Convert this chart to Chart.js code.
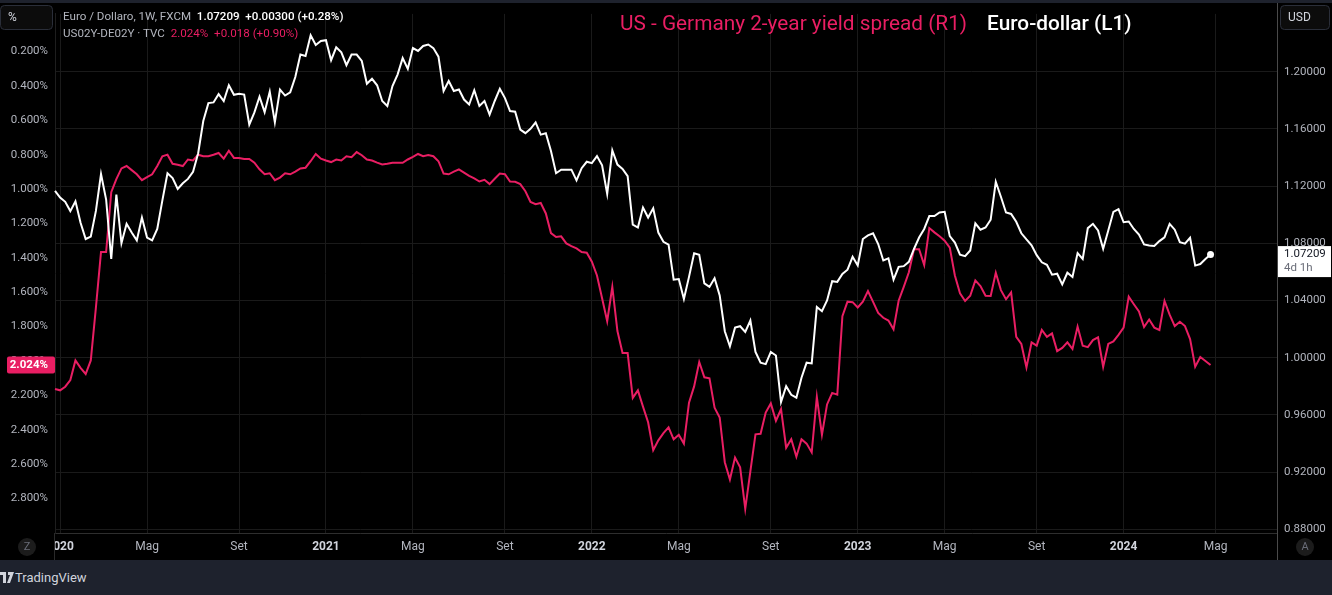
<!DOCTYPE html>
<html>
<head>
<meta charset="utf-8">
<script src="https://cdn.jsdelivr.net/npm/chart.js@4.4.1/dist/chart.umd.min.js"></script>
<style>
  html, body { margin: 0; padding: 0; background: #000; }
  body { width: 1332px; height: 595px; position: relative; overflow: hidden; font-family: Roboto, "Noto Sans", sans-serif; }
  #wrap { position: absolute; left: 0; top: 0; width: 1332px; height: 560px; }
  #footer { position: absolute; left: 0; top: 560px; width: 1332px; height: 35px; background: #1e222d; }
  #footer span { position: absolute; left: 15px; top: 0; line-height: 35px; font-size: 13px; color: #d1d4dc; }
  .lg { position: absolute; left: 63px; font-size: 11.6px; line-height: 14px; color: #b2b5be; white-space: pre; }
  .lg b { color: #fff; font-weight: 500; }
  .pk { color: #e91e63; }
  #title { position: absolute; left: 620px; top: 10px; font-size: 20.8px; line-height: 26px; white-space: pre; }
  #title .w { color: #fff; font-weight: 500; margin-left: 20px; }
</style>
</head>
<body>
<div id="wrap"><canvas id="chart" width="1332" height="560"></canvas></div>
<div class="lg" style="top:9px">Euro / Dollaro, 1W, FXCM  <b>1.07209</b>  <b>+0.00300 (+0.28%)</b></div>
<div class="lg" style="top:26px">US02Y-DE02Y · TVC  <span class="pk">2.024%</span>  <span class="pk">+0.018 (+0.90%)</span></div>
<div id="title"><span class="pk">US - Germany 2-year yield spread (R1)</span><span class="w">Euro-dollar (L1)</span></div>
<div id="footer">
  <svg width="14" height="12" style="position:absolute;left:0;top:12px">
    <path d="M0 0h6v11h-3v-8h-3z" fill="#d1d4dc"/><path d="M8 0h6l-4 11h-3l3-8h-2z" fill="#d1d4dc"/>
  </svg>
  <span>TradingView</span>
</div>
<script>
// weekly closes, week of 30 Dec 2019 .. week of 29 Apr 2024
const eurusd = [
  1.1167, 1.1120, 1.1090, 1.1025, 1.1093, 1.0944, 1.0830, 1.0847, 1.1026, 1.1284,
  1.1106, 1.0690, 1.1140, 1.0800, 1.0936, 1.0875, 1.0820, 1.0980, 1.0840, 1.0820,
  1.0900, 1.1100, 1.1290, 1.1256, 1.1180, 1.1220, 1.1250, 1.1300, 1.1430, 1.1655,
  1.1780, 1.1785, 1.1843, 1.1795, 1.1905, 1.1838, 1.1845, 1.1840, 1.1630, 1.1715,
  1.1825, 1.1717, 1.1860, 1.1646, 1.1875, 1.1833, 1.1855, 1.1963, 1.2120, 1.2110,
  1.2255, 1.2187, 1.2214, 1.2220, 1.2080, 1.2170, 1.2135, 1.2045, 1.2120, 1.2120,
  1.2075, 1.1915, 1.1950, 1.1905, 1.1795, 1.1760, 1.1900, 1.1980, 1.2095, 1.2020,
  1.2165, 1.2145, 1.2180, 1.2190, 1.2165, 1.2105, 1.1865, 1.1935, 1.1865, 1.1875,
  1.1805, 1.1770, 1.1870, 1.1760, 1.1795, 1.1700, 1.1795, 1.1880, 1.1815, 1.1725,
  1.1720, 1.1595, 1.1570, 1.1600, 1.1645, 1.1560, 1.1570, 1.1445, 1.1290, 1.1315,
  1.1315, 1.1315, 1.1240, 1.1325, 1.1370, 1.1360, 1.1410, 1.1345, 1.1145, 1.1450,
  1.1350, 1.1320, 1.1270, 1.0930, 1.0910, 1.1050, 1.0980, 1.1045, 1.0875, 1.0810,
  1.0790, 1.0545, 1.0550, 1.0410, 1.0565, 1.0730, 1.0720, 1.0520, 1.0495, 1.0555,
  1.0435, 1.0185, 1.0080, 1.0210, 1.0220, 1.0180, 1.0260, 1.0040, 0.9965, 0.9955,
  1.0040, 1.0015, 0.9690, 0.9800, 0.9740, 0.9720, 0.9860, 0.9965, 0.9960, 1.0355,
  1.0325, 1.0400, 1.0535, 1.0530, 1.0585, 1.0615, 1.0705, 1.0645, 1.0830, 1.0855,
  1.0870, 1.0795, 1.0680, 1.0695, 1.0545, 1.0635, 1.0640, 1.0670, 1.0760, 1.0840,
  1.0900, 1.0990, 1.0990, 1.1015, 1.1020, 1.0850, 1.0805, 1.0720, 1.0710, 1.0750,
  1.0940, 1.0895, 1.0910, 1.0965, 1.1230, 1.1125, 1.1015, 1.1005, 1.0950, 1.0870,
  1.0827, 1.0786, 1.0717, 1.0667, 1.0649, 1.0580, 1.0587, 1.0512, 1.0594, 1.0564,
  1.0731, 1.0690, 1.0906, 1.0936, 1.0890, 1.0762, 1.0890, 1.1020, 1.1039, 1.0947,
  1.0952, 1.0900, 1.0861, 1.0792, 1.0785, 1.0781, 1.0815, 1.0842, 1.0936, 1.0895,
  1.0808, 1.0797, 1.0838, 1.0644, 1.0655, 1.0690, 1.07209
];
const spread = [
  2.163, 2.171, 2.150, 2.111, 1.997, 2.040, 2.076, 1.997, 1.690, 1.366,
  1.366, 1.018, 0.942, 0.880, 0.866, 0.890, 0.914, 0.948, 0.930, 0.914,
  0.866, 0.810, 0.800, 0.853, 0.859, 0.866, 0.828, 0.834, 0.800, 0.809,
  0.809, 0.800, 0.790, 0.823, 0.777, 0.819, 0.819, 0.825, 0.825, 0.847,
  0.885, 0.914, 0.908, 0.948, 0.933, 0.908, 0.914, 0.899, 0.880, 0.876,
  0.838, 0.796, 0.823, 0.834, 0.843, 0.828, 0.834, 0.809, 0.815, 0.785,
  0.803, 0.828, 0.834, 0.846, 0.857, 0.853, 0.847, 0.847, 0.847, 0.828,
  0.813, 0.796, 0.809, 0.802, 0.809, 0.838, 0.910, 0.914, 0.899, 0.885,
  0.904, 0.923, 0.938, 0.956, 0.946, 0.971, 0.940, 0.910, 0.914, 0.956,
  0.958, 0.971, 1.013, 1.075, 1.088, 1.081, 1.142, 1.256, 1.279, 1.275,
  1.316, 1.332, 1.345, 1.366, 1.370, 1.423, 1.503, 1.635, 1.769, 1.569,
  1.826, 1.954, 1.954, 2.215, 2.171, 2.266, 2.357, 2.519, 2.462, 2.420,
  2.386, 2.456, 2.430, 2.481, 2.243, 2.148, 2.006, 2.095, 2.101, 2.272,
  2.329, 2.589, 2.690, 2.562, 2.619, 2.860, 2.642, 2.427, 2.424, 2.300,
  2.247, 2.348, 2.281, 2.505, 2.456, 2.557, 2.456, 2.481, 2.532, 2.209,
  2.430, 2.253, 2.186, 2.196, 1.740, 1.655, 1.658, 1.689, 1.655, 1.594,
  1.656, 1.721, 1.749, 1.765, 1.816, 1.650, 1.569, 1.484, 1.350, 1.350,
  1.442, 1.227, 1.252, 1.275, 1.300, 1.341, 1.503, 1.607, 1.651, 1.621,
  1.531, 1.564, 1.621, 1.622, 1.487, 1.588, 1.641, 1.601, 1.860, 1.901,
  2.038, 1.892, 1.911, 1.820, 1.860, 1.840, 1.943, 1.924, 1.892, 1.930,
  1.800, 1.911, 1.920, 1.879, 1.863, 2.034, 1.901, 1.886, 1.848, 1.806,
  1.626, 1.670, 1.712, 1.803, 1.759, 1.806, 1.820, 1.651, 1.731, 1.797,
  1.772, 1.797, 1.873, 2.034, 1.977, 2.000, 2.024
];

const leftTicks = [0.2, 0.4, 0.6, 0.8, 1.0, 1.2, 1.4, 1.6, 1.8, 2.0, 2.2, 2.4, 2.6, 2.8];
const rightTicks = [0.88, 0.92, 0.96, 1.00, 1.04, 1.08, 1.12, 1.16, 1.20];
const monthNames = { 4: 'Mag', 8: 'Set' };   // Jan shows the year
const countdown = '4d 1h';

// weekly categories (Mondays), incl. empty weeks on the right margin
const weeks = [];
const t0 = Date.UTC(2019, 11, 30);
for (let i = 0; i < 240; i++) weeks.push(new Date(t0 + i * 7 * 864e5));
const xTickIdx = [];
weeks.forEach((d, i) => {
  const m = d.getUTCMonth();
  if (d.getUTCDate() <= 7 && (m === 0 || monthNames[m])) xTickIdx.push(i);
});
const isYear = i => weeks[i].getUTCMonth() === 0;

const PINK = '#e91e63';
const GRID = '#1a1a1a';

function roundRect(c, x, y, w, h, r) {
  c.beginPath();
  c.moveTo(x + r, y); c.lineTo(x + w - r, y); c.quadraticCurveTo(x + w, y, x + w, y + r);
  c.lineTo(x + w, y + h - r); c.quadraticCurveTo(x + w, y + h, x + w - r, y + h);
  c.lineTo(x + r, y + h); c.quadraticCurveTo(x, y + h, x, y + h - r);
  c.lineTo(x, y + r); c.quadraticCurveTo(x, y, x + r, y);
  c.closePath();
}

const decor = {
  id: 'decor',
  afterDraw(chart) {
    const c = chart.ctx, a = chart.chartArea;
    c.save();
    // top strip
    c.fillStyle = '#1e222d';
    c.fillRect(0, 0, 1332, 3);
    // axis separators through the time axis band
    c.fillStyle = '#000';
    c.fillRect(0, a.bottom + 1, a.left, 560 - a.bottom - 1);
    c.strokeStyle = '#2a2a2a'; c.lineWidth = 1;
    c.beginPath(); c.moveTo(a.left - 0.5, a.bottom); c.lineTo(a.left - 0.5, 560); c.stroke();
    c.strokeStyle = '#4a4a4a';
    c.beginPath(); c.moveTo(a.right + 0.5, 3); c.lineTo(a.right + 0.5, 560); c.stroke();

    c.font = '11px Roboto';
    c.textAlign = 'center'; c.textBaseline = 'middle';
    [[27, 'Z'], [1305, 'A']].forEach(([x, s]) => {
      c.fillStyle = '#1c1c1c';
      c.beginPath(); c.arc(x, 547, 9, 0, Math.PI * 2); c.fill();
      c.fillStyle = '#6a6d78'; c.fillText(s, x, 547.5);
    });

    // unit boxes
    c.fillStyle = '#0c0c0c'; c.strokeStyle = '#2a2e39';
    roundRect(c, 0.5, 5.5, 52, 24, 4); c.fill(); c.stroke();
    roundRect(c, 1280.5, 5.5, 49, 24, 4); c.fill(); c.stroke();
    c.fillStyle = '#d1d4dc'; c.font = '12px Roboto'; c.textAlign = 'left';
    c.fillText('%', 8, 17.5);
    c.fillText('USD', 1288, 17.5);

    // last value tags
    const yR = chart.scales.yR, yL = chart.scales.yL;
    const lastE = eurusd[eurusd.length - 1], lastS = spread[spread.length - 1];
    const pe = yR.getPixelForValue(lastE);
    c.fillStyle = '#ffffff';
    c.fillRect(a.right + 1, pe - 8.5, 53, 31);
    c.fillStyle = '#131722'; c.font = '11.5px Roboto';
    c.fillText(lastE.toFixed(5), 1284, pe);
    c.fillStyle = '#6a6d78';
    c.fillText(countdown, 1284, pe + 14);

    const ps = yL.getPixelForValue(lastS);
    c.fillStyle = PINK;
    roundRect(c, 7, ps - 8.5, 48, 17, 2); c.fill();
    c.fillStyle = '#fff'; c.font = 'bold 11.5px Roboto'; c.textAlign = 'right';
    c.fillText(lastS.toFixed(3) + '%', 48, ps + 0.5);
    c.restore();
  }
};

Chart.defaults.font.family = 'Roboto';

new Chart(document.getElementById('chart').getContext('2d'), {
  type: 'line',
  data: {
    labels: weeks.map(d => d.toISOString().slice(0, 10)),
    datasets: [{
      label: 'EURUSD',
      data: eurusd,
      yAxisID: 'yR',
      borderColor: '#ffffff',
      borderWidth: 2,
      pointRadius: ctx => ctx.dataIndex === eurusd.length - 1 ? 3.5 : 0,
      pointBackgroundColor: '#ffffff',
      pointBorderWidth: 0,
      tension: 0
    }, {
      label: 'US02Y-DE02Y',
      data: spread,
      yAxisID: 'yL',
      borderColor: PINK,
      borderWidth: 2,
      pointRadius: 0,
      tension: 0
    }]
  },
  options: {
    responsive: false,
    animation: false,
    devicePixelRatio: 1,
    layout: { padding: { top: 3 } },
    plugins: { legend: { display: false }, tooltip: { enabled: false } },
    scales: {
      x: {
        type: 'category',
        offset: false,
        grid: { color: GRID, drawTicks: false },
        border: { color: '#2e2e2e' },
        afterBuildTicks: s => { s.ticks = xTickIdx.map(v => ({ value: v })); },
        afterFit: s => { s.height = 27; },
        ticks: {
          autoSkip: false, maxRotation: 0, padding: 7,
          color: ctx => isYear(ctx.tick.value) ? '#d1d4dc' : '#b2b5be',
          font: ctx => ({ size: 12, weight: isYear(ctx.tick.value) ? 'bold' : 'normal' }),
          callback: v => isYear(v) ? String(weeks[v].getUTCFullYear()) : monthNames[weeks[v].getUTCMonth()]
        }
      },
      yL: {
        position: 'left',
        reverse: true,
        min: -0.019, max: 3.001,
        grid: { display: false, drawTicks: false },
        border: { color: '#1e1e1e' },
        afterBuildTicks: s => { s.ticks = leftTicks.map(v => ({ value: v })); },
        afterFit: s => { s.width = 55; },
        ticks: { padding: 7, color: '#b2b5be', font: { size: 11.5 }, callback: v => v.toFixed(3) + '%' }
      },
      yR: {
        position: 'right',
        min: 0.8774, max: 1.2404,
        grid: { color: GRID, drawTicks: false },
        border: { color: '#4a4a4a' },
        afterBuildTicks: s => { s.ticks = rightTicks.map(v => ({ value: v })); },
        afterFit: s => { s.width = 55; },
        ticks: { padding: 7, color: '#b2b5be', font: { size: 11.5 }, callback: v => v.toFixed(5) }
      }
    }
  },
  plugins: [decor]
});
</script>
</body>
</html>
